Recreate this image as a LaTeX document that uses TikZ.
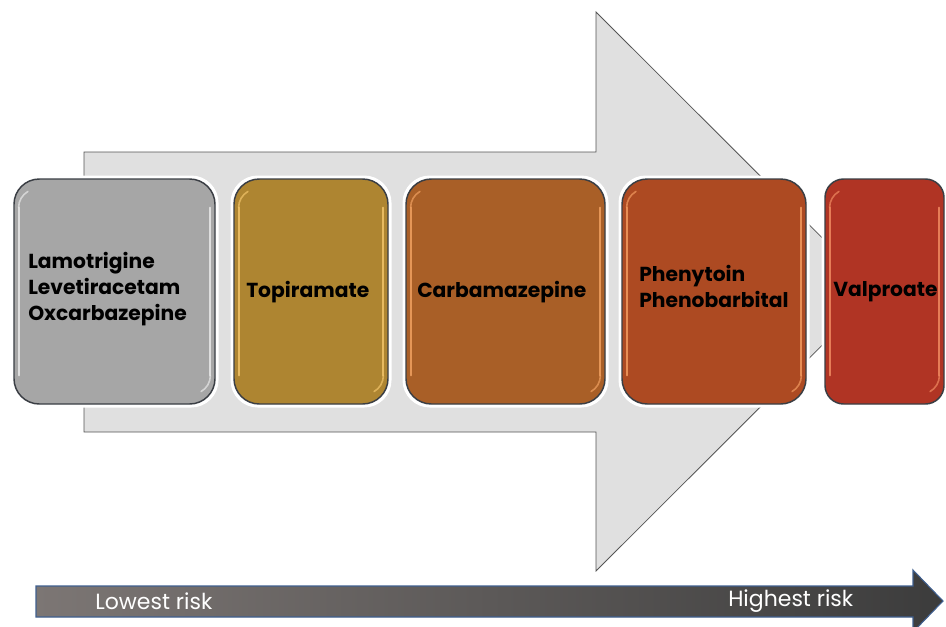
\documentclass[tikz,border=0pt]{standalone}
\usepackage{fontspec}
\setmainfont{Poppins}
\usetikzlibrary{calc}
\definecolor{bigfill}{HTML}{E0E0E0}
\definecolor{bigline}{HTML}{555555}
\definecolor{cA}{HTML}{A6A6A6}
\definecolor{cB}{HTML}{AE8531}
\definecolor{cC}{HTML}{A95F27}
\definecolor{cD}{HTML}{AD4A22}
\definecolor{cE}{HTML}{B03424}
\definecolor{hA}{HTML}{E8E8E8}
\definecolor{hB}{HTML}{F2C46A}
\definecolor{hC}{HTML}{F0A060}
\definecolor{hD}{HTML}{F29A60}
\definecolor{hE}{HTML}{F08A60}
\definecolor{boxline}{HTML}{3A3E44}
\definecolor{arrL}{HTML}{7C7674}
\definecolor{arrR}{HTML}{3C3C3C}
\definecolor{arrEdge}{HTML}{3F5F8F}
\tikzset{
  drugbox/.style={draw=boxline, line width=1.1pt, rounded corners=19pt,
    minimum height=168.75pt, inner sep=0pt},
  drugtext/.style={anchor=west, align=left, inner sep=0pt,
    font=\fontsize{15.2}{19.5}\selectfont\bfseries, text=black},
  risklabel/.style={font=\fontsize{16.5}{18}\selectfont, text=white, inner sep=0pt, anchor=west}
}
\begin{document}
\begin{tikzpicture}[x=0.75pt,y=-0.75pt]
\useasboundingbox (0,0) rectangle (946,626);
% big background arrow
\draw[fill=bigfill, draw=bigline, line width=0.6pt]
  (84,152) -- (596,152) -- (596,12) -- (876,291.5) -- (596,571) -- (596,432) -- (84,432) -- cycle;
% white halos around boxes
\foreach \xa/\xb/\r in {14/215/19pt, 234/388/19pt, 406/605/19pt, 622/806/19pt, 825/944/14pt}{
  \draw[white, line width=3pt, rounded corners=\r] (\xa-1.5,177.5) rectangle (\xb+1.5,405.5);
}
\node[drugbox, fill=cA, minimum width=150.75pt] (b1) at (114.5,291.5) {};
\node[drugbox, fill=cB, minimum width=115.5pt] (b2) at (311,291.5) {};
\node[drugbox, fill=cC, minimum width=149.25pt] (b3) at (505.5,291.5) {};
\node[drugbox, fill=cD, minimum width=138pt] (b4) at (714,291.5) {};
\node[drugbox, fill=cE, minimum width=89.25pt, rounded corners=14pt] (b5) at (884.5,291.5) {};
% glossy highlights
\foreach \n/\h in {b1/hA, b2/hB, b3/hC, b4/hD, b5/hE}{
  \draw[\h, line width=1.6pt, line cap=round, opacity=0.85]
    ([xshift=4pt,yshift=-22pt]\n.north west) -- ([xshift=4pt,yshift=22pt]\n.south west);
  \draw[\h, line width=1.6pt, line cap=round, opacity=0.85]
    ([xshift=-4pt,yshift=-22pt]\n.north east) -- ([xshift=-4pt,yshift=22pt]\n.south east);
  \draw[\h, line width=1.2pt, line cap=round, opacity=0.7]
    ([xshift=4pt,yshift=-22pt]\n.north west) arc[start angle=180, end angle=120, radius=14pt];
  \draw[\h, line width=1.2pt, line cap=round, opacity=0.7]
    ([xshift=-4pt,yshift=22pt]\n.south east) arc[start angle=0, end angle=-60, radius=14pt];
}
% box texts
\node[drugtext] (t1) at (28,289) {Lamotrigine\\Levetiracetam\\Oxcarbazepine};
\node[drugtext] (t2) at (246,292) {Topiramate};
\node[drugtext] (t3) at (417,292) {Carbamazepine};
\node[drugtext] (t4) at (639,286.5) {Phenytoin\\Phenobarbital};
\node[drugtext] (t5) at (833,292) {Valproate};
% bottom risk arrow
\shade[left color=arrL, right color=arrR, draw=arrEdge, line width=0.8pt]
  (36,586) -- (913,586) -- (913,570) -- (943,601) -- (913,632) -- (913,617) -- (36,617) -- cycle;
\node[risklabel] (low) at (95,601) {Lowest risk};
\node[risklabel] (high) at (728,601) {Highest risk};
\end{tikzpicture}
\end{document}
